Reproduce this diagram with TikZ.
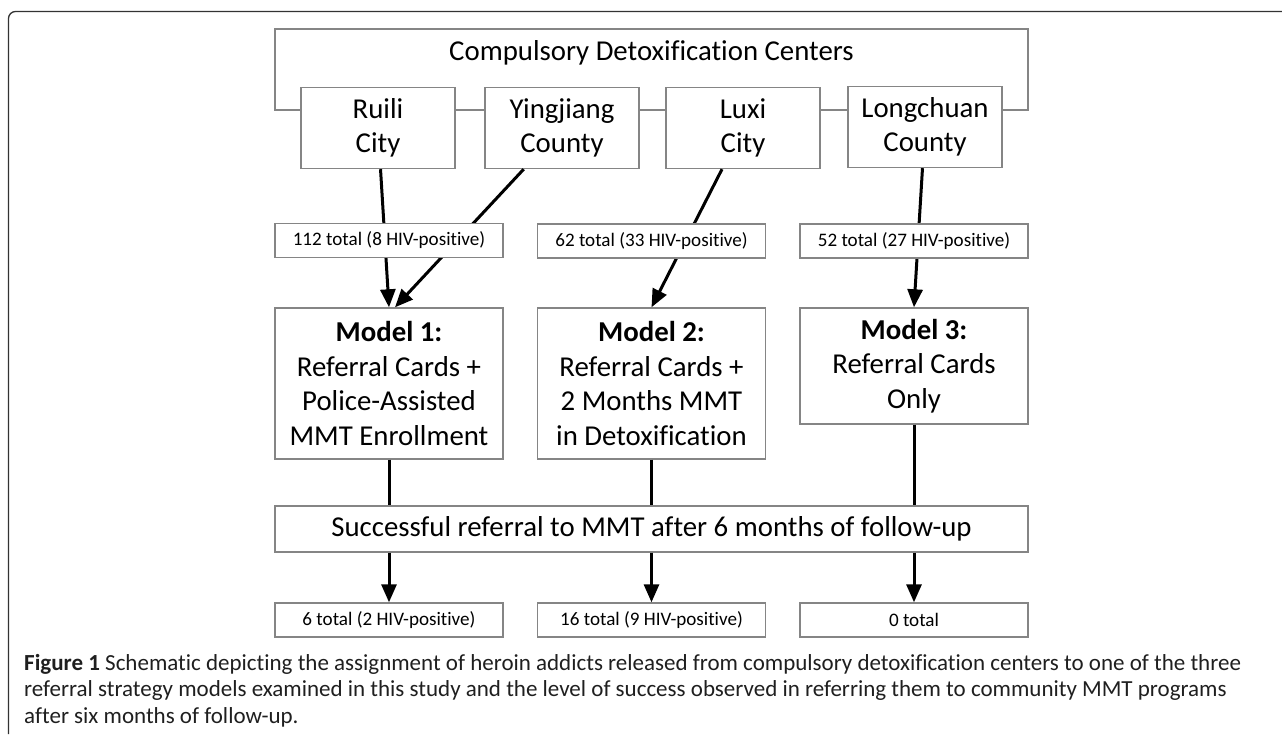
\documentclass[tikz,border=0pt]{standalone}
\usepackage{fontspec}
\setmainfont{Carlito}[Ligatures=NoCommon]
\usetikzlibrary{arrows.meta}
\begin{document}
\begin{tikzpicture}[x=1pt,y=-1pt,
  box/.style={draw=black!48,line width=1.4pt,fill=white,inner sep=0pt,align=center},
  big/.style={font=\fontsize{28.8}{34.5}\selectfont},
  city/.style={box,big,minimum width=154pt,minimum height=81pt},
  count/.style={box,minimum width=228pt,minimum height=34pt,font=\fontsize{19.1}{22}\selectfont},
  model/.style={box,big,minimum width=228pt},
  link/.style={line width=3pt},
  arr/.style={link,-{Triangle[length=18pt,width=15pt]}}]
\useasboundingbox (0,0) rectangle (1282,734);
% frame
\draw[black!80,line width=1.3pt,rounded corners=7pt] (8.5,734) |- (1282,11.5);
% centers
\draw[black!48,line width=1.4pt] (275,29) rectangle (1028,110);
\node[big] (cdc) at (651.5,53) {Compulsory Detoxification Centers};
\node[city] (ruili) at (378,128) {Ruili\\City};
\node[city] (ying) at (562,128) {Yingjiang\\County};
\node[city] (luxi) at (743,128) {Luxi\\City};
\node[city] (long) at (925,127) {Longchuan\\County};
% models
\node[model,minimum height=151pt] (m1) at (389,383.5) {\textbf{Model 1:}\\Referral Cards +\\Police-Assisted\\MMT Enrollment};
\node[model,minimum height=151pt] (m2) at (651.5,383.5) {\textbf{Model 2:}\\Referral Cards +\\2 Months MMT\\in Detoxification};
\node[model,minimum height=116pt] (m3) at (914,366) {\textbf{Model 3:}\\Referral Cards\\Only};
\draw[arr] (ruili) -- (m1.north);
\draw[arr] (ying) -- ([xshift=6pt]m1.north);
\draw[arr] (luxi) -- (m2.north);
\draw[arr] (long) -- (m3.north);
% counts
\node[count] (c1) at (389,240.5) {112 total (8 HIV-positive)};
\node[count] (c2) at (651.5,241) {62 total (33 HIV-positive)};
\node[count] (c3) at (914,241) {52 total (27 HIV-positive)};
% follow-up
\node[box,big,minimum width=753pt,minimum height=46pt] (succ) at (651.5,529) {Successful referral to MMT after 6 months of follow-up};
\node[count] (r1) at (389,620) {6 total (2 HIV-positive)};
\node[count] (r2) at (651.5,620) {16 total (9 HIV-positive)};
\node[count] (r3) at (914,620) {0 total};
\foreach \m/\r in {m1/r1,m2/r2,m3/r3}{
  \draw[link] (\m) -- (\m|-succ.north);
  \draw[arr] (\m|-succ.south) -- (\r);
}
% caption
\node[anchor=north west,align=left,inner sep=0pt,text=black!88,font=\fontsize{23}{26.5}\selectfont] (cap) at (24,654)
  {\textbf{Figure 1} Schematic depicting the assignment of heroin addicts released from compulsory detoxification centers to one of the three\\
   referral strategy models examined in this study and the level of success observed in referring them to community MMT programs\\
   after six months of follow-up.};
\end{tikzpicture}
\end{document}
